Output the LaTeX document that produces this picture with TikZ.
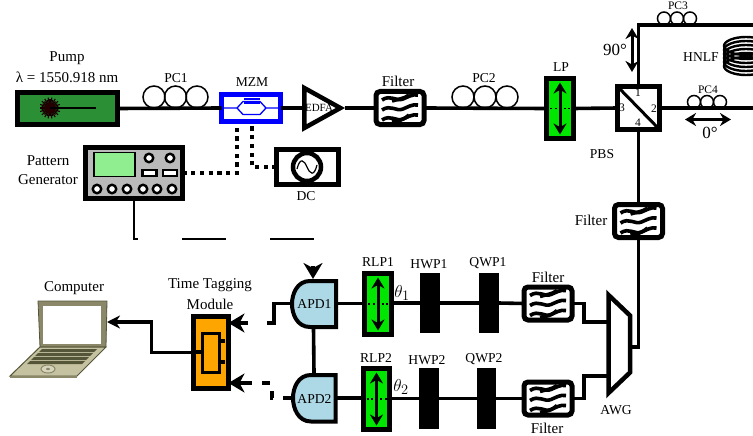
\documentclass[tikz,border=0pt]{standalone}
\usepackage{fontspec}
\setmainfont{Liberation Serif}
\usetikzlibrary{arrows.meta}
\definecolor{pumpgreen}{HTML}{2B8F36}
\definecolor{polgreen}{HTML}{00E600}
\definecolor{scrgreen}{HTML}{90EE90}
\definecolor{apdblue}{HTML}{ADD8E6}
\definecolor{ttmorange}{HTML}{FFA500}
\definecolor{lapbody}{HTML}{C4C2A0}
\definecolor{lapdark}{HTML}{55553A}
\definecolor{lapmid}{HTML}{8A8868}
\tikzset{
  wire/.style={line width=3.6pt},
  thinwire/.style={line width=1.8pt},
  dotwire/.style={line width=4.4pt,dash pattern=on 4.2pt off 4.5pt},
  dashwire/.style={line width=3.6pt,dash pattern=on 8pt off 10pt},
  box/.style={draw,line width=5pt,inner sep=0pt,outer sep=0pt},
  loop/.style={draw,circle,line width=1.5pt,inner sep=0pt,outer sep=0pt},
  lab/.style={inner sep=0pt,font=\fontsize{15}{15}\selectfont},
  midlab/.style={inner sep=0pt,font=\fontsize{13.6}{14}\selectfont},
  smalllab/.style={inner sep=0pt,font=\fontsize{11.5}{12}\selectfont},
  plate/.style={fill=black,draw=none,inner sep=0pt,outer sep=0pt},
  wave/.style={line width=3.6pt},
  tickhead/.style={-{Stealth[length=13pt,width=13pt]},line width=3.4pt},
  doublehead/.style={{Stealth[length=11pt,width=13pt]}-{Stealth[length=11pt,width=13pt]},line width=3pt},
  barbhead/.style={-{Stealth[length=16pt,width=19pt,inset=5pt]},line width=3.4pt},
  pgknob/.style={draw,circle,line width=2.4pt,fill=white,minimum size=8.5pt,inner sep=0pt},
  pgkey/.style={draw,line width=2.4pt,fill=white,inner sep=0pt,minimum width=14pt,minimum height=6pt},
}
% filter symbol: name, x, y
\newcommand{\filterbox}[3]{%
  \node[box,rounded corners=4pt,fill=white,minimum width=48pt,minimum height=33pt] (#1) at (#2,#3) {};
  \begin{scope}[shift={(#2,#3)}]
    \foreach \yy in {-10,0,10}{
      \draw[wave] (-18,\yy+2) .. controls (-9,\yy-4) and (-4,\yy+4) .. (3,\yy+1) .. controls (8,\yy-1) and (12,\yy-4) .. (18,\yy-3);
    }
    \draw[wave] (-8,-7) .. controls (-2,-9) and (4,-9) .. (9,-13);
    \draw[wave] (-8,14) .. controls (-2,13) and (4,12) .. (9,7);
  \end{scope}}
% polariser symbol: name, x, y, w, h
\newcommand{\polbox}[5]{%
  \node[box,fill=polgreen,minimum width=#4pt,minimum height=#5pt] (#1) at (#2,#3) {};
  \begin{scope}[shift={(#2,#3)}]
    \draw[line width=1.8pt,dash pattern=on 2pt off 2.5pt] (-10,0) -- (10,0);
    \draw[doublehead] (0,-#5/2+4) -- (0,#5/2-4);
  \end{scope}}
\begin{document}
\begin{tikzpicture}[x=1pt,y=-1pt]
\useasboundingbox (0,0) rectangle (753,436);
\fill[white] (0,0) rectangle (753,436);

% ---- named junctions
\coordinate (rightA) at (753,25);
\coordinate (rightB) at (753,108);
\coordinate (cornerTop) at (638.5,25);
\coordinate (pgStubEnd) at (138,239);
\coordinate (stubL1) at (182,239);
\coordinate (stubR1) at (226,239);
\coordinate (stubL2) at (270,239);
\coordinate (stubR2) at (314,239);
\coordinate (ttmInA) at (248,323);
\coordinate (ttmInB) at (246,383);
\coordinate (apdTailA) at (267,323);
\coordinate (awgIn1) at (607,322);
\coordinate (awgIn2) at (607,376);
\coordinate (awgOut) at (632,347);
\coordinate (focusTop) at (313,266);
\coordinate (focusTip) at (313,279);
\coordinate (lapPort) at (107,322);
\coordinate (mzmA) at (237,124);
\coordinate (mzmB) at (252,124);

% ---- component bodies
\node[box,fill=pumpgreen,minimum width=100pt,minimum height=32pt] (pump) at (67.5,108.5) {};
\node[box,fill=white,draw=blue,minimum width=59pt,minimum height=27pt] (mzm) at (251,108) {};
\node[inner sep=0pt,outer sep=0pt,minimum width=43pt,minimum height=48pt] (edfa) at (323,108) {};
\filterbox{filtA}{400}{108}
\polbox{lp}{560}{108.5}{27}{60}
\node[box,fill=white,minimum width=42pt,minimum height=43pt] (pbs) at (638.5,108) {};
\filterbox{filtB}{638.5}{221}
\node[box,fill=white,minimum width=62pt,minimum height=35pt] (dc) at (307.5,167) {};
\node[box,fill=black!27,minimum width=97pt,minimum height=51pt] (pg) at (134,173) {};
\node[inner sep=0pt,outer sep=0pt,minimum width=25pt,minimum height=83pt] (awg) at (619.5,344) {};
\filterbox{filtC}{548}{303.5}
\filterbox{filtD}{548}{398.5}
\node[plate,minimum width=20pt,minimum height=60pt] (qwpA) at (488.5,303) {};
\node[plate,minimum width=20pt,minimum height=60pt] (hwpA) at (429.5,303) {};
\node[plate,minimum width=19pt,minimum height=61pt] (qwpB) at (486.5,398.5) {};
\node[plate,minimum width=20pt,minimum height=61pt] (hwpB) at (429,398.5) {};
\polbox{rlpA}{378}{304}{27}{61}
\polbox{rlpB}{376.5}{399}{26}{61}
\node[inner sep=0pt,outer sep=0pt,minimum width=47pt,minimum height=49pt] (apdA) at (313.5,303.5) {};
\node[inner sep=0pt,outer sep=0pt,minimum width=46pt,minimum height=50pt] (apdB) at (314,398) {};
\node[box,fill=ttmorange,minimum width=35pt,minimum height=72pt] (ttm) at (211,352.5) {};

% ---- connectors
\draw[wire] (pump.east) -- (mzm.west);
\draw[wire] (mzm.east) -- (edfa.west);
\draw[wire] (edfa.east) -- (filtA.west);
\draw[wire] (filtA.east) -- (lp.west);
\draw[wire] (lp.east) -- (pbs.west);
\draw[wire] (pbs.east) -- (rightB);
\draw[wire] (pbs.north) -- (cornerTop) -- (rightA);
\draw[wire] (pbs.south) -- (filtB.north);
\draw[wire] (filtB.south) |- (awgOut);
\draw[wire] (filtC.east) -- ++(12,0) |- (awgIn1);
\draw[wire] (filtD.east) -- ++(12,0) |- (awgIn2);
\draw[wire] (filtC.west) -- (qwpA.east);
\draw[wire] (qwpA.west) -- (hwpA.east);
\draw[wire] (hwpA.west) -- (rlpA.east |- hwpA.west);
\draw[wire] (rlpA.west |- apdA.east) -- (apdA.east);
\draw[wire] (filtD.west) -- (qwpB.east);
\draw[wire] (qwpB.west) -- (hwpB.east);
\draw[wire] (hwpB.west) -- (rlpB.east |- hwpB.west);
\draw[wire] (rlpB.west |- apdB.east) -- (apdB.east);
\draw[wire] (apdA.south) -- (apdB.north);
\draw[wire] (apdA.west) -- ++(-16,0) |- (apdTailA);
\draw[barbhead] (ttmInA) -- (ttm.east |- ttmInA);
\draw[barbhead] (focusTop) -- (focusTip);
\draw[dashwire] (apdB.west) -- (272,398) -- (272,383) -- (ttmInB);
\draw[barbhead] (ttmInB) -- (ttm.east |- ttmInB);
\draw[wire] (ttm.west) -- ++(-42,0) |- ([xshift=10pt]lapPort);
\draw[tickhead] ([xshift=11pt]lapPort) -- (lapPort);
\draw[dotwire] (pg.east |- 0,173) -- (mzmA |- 0,173) -- (mzmA);
\draw[dotwire] (dc.west) -- (mzmB |- dc.west) -- (mzmB);
\draw[thinwire] (134,201) -- (134,239) -- (pgStubEnd);
\draw[thinwire] (stubL1) -- (stubR1);
\draw[thinwire] (stubL2) -- (stubR2);

% pump laser
\begin{scope}[shift={(50,108)}]
  \foreach \a in {0,20,...,340}{\draw[line width=1.1pt,black!90!red] (0,0) -- (\a:10.5);}
  \foreach \a in {10,30,...,350}{\draw[line width=1.1pt,black!90!red] (0,0) -- (\a:8.5);}
  \fill[black!85!red] (0,0) circle (5.5);
  \draw[line width=1.5pt] (0,0) -- (46,0);
\end{scope}

% polarisation controllers
\node[loop,minimum size=22pt] (pcAa) at (154,97) {};
\node[loop,minimum size=22pt] (pcAb) at (175.5,97) {};
\node[loop,minimum size=22pt] (pcAc) at (197,97) {};
\node[loop,minimum size=22pt] (pcBa) at (463,97) {};
\node[loop,minimum size=22pt] (pcBb) at (485,97) {};
\node[loop,minimum size=22pt] (pcBc) at (507,97) {};
\node[loop,minimum size=13pt] (pcCa) at (664,18.5) {};
\node[loop,minimum size=13pt] (pcCb) at (677,18.5) {};
\node[loop,minimum size=13pt] (pcCc) at (690,18.5) {};
\node[loop,minimum size=13pt] (pcDa) at (694,102) {};
\node[loop,minimum size=13pt] (pcDb) at (707,102) {};
\node[loop,minimum size=13pt] (pcDc) at (720,102) {};

% MZM interior
\draw[blue,line width=1.3pt] (222,108) -- (237,108) -- (243,101.5) -- (260,101.5) -- (266,108) -- (280,108);
\draw[blue,line width=1.3pt] (237,108) -- (243,114.5) -- (260,114.5) -- (266,108);
\fill[blue] (243.5,98) rectangle (259.5,100.5);
\fill[blue] (243.5,102) rectangle (259.5,104.5);

% EDFA
\draw[line width=4.5pt,miter limit=10,fill=white] (304.3,88) -- (340.4,108) -- (304.3,128) -- cycle;
\node[inner sep=0pt,font=\fontsize{11}{11}\selectfont] (edfaLab) at (319,108) {EDFA};

% PBS interior
\draw[line width=3pt] (pbs.north west) -- (pbs.south east);
\node[smalllab] (pOne) at (638,93) {1};
\node[smalllab] (pTwo) at (654,109) {2};
\node[smalllab] (pThree) at (622,108) {3};
\node[smalllab] (pFour) at (638,123) {4};

% polarisation arrows
\draw[doublehead] (632,28) -- (632,72);
\draw[doublehead] (685,119.5) -- (731,119.5);

% HNLF coil
\begin{scope}
  \clip (715,30) rectangle (753,80);
  \foreach \yy in {46,50,54,58,62,66}{\draw[line width=2.4pt] (746,\yy) ellipse [x radius=22,y radius=9];}
\end{scope}

% pattern generator
\node[draw,line width=1.8pt,fill=scrgreen,minimum width=41pt,minimum height=24pt,inner sep=0pt] (pgScreen) at (114.5,164.5) {};
\node[pgknob] (kA) at (149,158) {};
\node[pgknob] (kB) at (170,158) {};
\node[pgkey] (kC) at (149.5,173) {};
\node[pgkey] (kD) at (170,173) {};
\foreach \n/\xx in {a/97,b/112,c/127,d/143,e/157,f/172}{\node[pgknob] (pgb\n) at (\xx,189) {};}

% DC source
\node[draw,circle,line width=4.5pt,fill=white,minimum size=28pt,inner sep=0pt] (dcDial) at (307,167) {};
\draw[line width=1.2pt] (297,169) .. controls (300,157) and (304,160) .. (307,167) .. controls (310,174) and (314,177) .. (317,165);

% AWG
\draw[line width=4.5pt,miter limit=10,fill=white] (608.5,295) -- (630,315.5) -- (630,372.5) -- (608.5,393) -- cycle;

% APDs
\draw[line width=4pt,fill=apdblue] (336,281) -- (310,281) .. controls (297,281) and (292,294) .. (292,304) .. controls (292,314) and (297,327) .. (310,327) -- (336,327) -- cycle;
\draw[line width=4pt,fill=apdblue] (335.5,375) -- (311,375) .. controls (298,375) and (293,388) .. (293,398) .. controls (293,408) and (298,421.5) .. (311,421.5) -- (335.5,421.5) -- cycle;
\node[midlab] (apdAlab) at (314.5,304) {APD1};
\node[midlab] (apdBlab) at (314.5,399) {APD2};

% time tagger interior
\draw[line width=3.4pt] (195,352) -- (202,352);
\draw[line width=3.4pt] (220,341) -- (225,341);
\draw[line width=3.4pt] (220,362) -- (225,362);
\node[draw,line width=3.4pt,fill=ttmorange,minimum width=17pt,minimum height=39pt,inner sep=0pt] (ttmCore) at (211,353) {};

% laptop
\fill[lapmid] (38,301) -- (107,301) -- (106,347) -- (40,347) -- cycle;
\draw[lapdark,line width=.8pt] (38,301) -- (107,301) -- (106,347) -- (40,347) -- cycle;
\node[fill=white,inner sep=0pt,minimum width=58pt,minimum height=38pt] (lapScreen) at (72,325) {};
\fill[lapbody] (40,347) -- (106,347) -- (77,376) -- (10,376) -- cycle;
\draw[lapdark,line width=1pt] (40,347) -- (106,347) -- (77,376) -- (10,376) -- cycle;
\fill[lapmid] (10,376) -- (77,376) -- (77,378) -- (10,378) -- cycle;
\fill[lapdark] (42,349) -- (97,349) -- (94,352) -- (39,352) -- cycle;
\fill[lapdark] (38,353) -- (93,353) -- (90,356) -- (35,356) -- cycle;
\fill[lapdark] (34,357) -- (89,357) -- (86,360) -- (31,360) -- cycle;
\fill[lapdark] (30,361) -- (85,361) -- (82,364) -- (27,364) -- cycle;
\draw[lapmid,line width=1pt,fill=lapbody!70!white] (48,369) ellipse [x radius=7,y radius=4];
\fill[lapmid] (48,369) ellipse [x radius=2,y radius=1.2];

% labels
\node[lab] (tPump) at (67,58) {Pump};
\node[lab] (tLambda) at (67,77) {λ = 1550.918 nm};
\node[midlab] (tPCa) at (176,78) {PC1};
\node[midlab] (tMZM) at (252,82) {MZM};
\node[lab] (tFa) at (398,81) {Filter};
\node[midlab] (tPCb) at (484,78) {PC2};
\node[midlab] (tLP) at (561,67) {LP};
\node[smalllab] (tPCc) at (678,6) {PC3};
\node[smalllab] (tPCd) at (708,90) {PC4};
\node[midlab] (tHNLF) at (701,57) {HNLF};
\node[inner sep=0pt,font=\fontsize{17}{17}\selectfont] (tNinety) at (615,50) {90°};
\node[inner sep=0pt,font=\fontsize{17}{17}\selectfont] (tZero) at (710,133) {0°};
\node[midlab] (tPBS) at (602,154) {PBS};
\node[lab] (tFb) at (591,220) {Filter};
\node[lab] (tPat) at (48,161) {Pattern};
\node[lab] (tGen) at (48,180) {Generator};
\node[midlab] (tDC) at (306,196) {DC};
\node[lab] (tComp) at (74,288) {Computer};
\node[lab] (tTime) at (210,285) {Time Tagging};
\node[lab] (tMod) at (210,304) {Module};
\node[midlab] (tRa) at (378,262) {RLP1};
\node[midlab] (tHa) at (429,264) {HWP1};
\node[midlab] (tQa) at (488,263) {QWP1};
\node[lab] (tFc) at (548,277) {Filter};
\node[midlab] (tRb) at (376,358) {RLP2};
\node[midlab] (tHb) at (427,360) {HWP2};
\node[midlab] (tQb) at (484,359) {QWP2};
\node[lab] (tFd) at (547,428) {Filter};
\node[midlab] (tAWG) at (616,410) {AWG};
\node[inner sep=0pt,font=\fontsize{19}{19}\selectfont] (tTa) at (402,293) {$\theta_1$};
\node[inner sep=0pt,font=\fontsize{19}{19}\selectfont] (tTb) at (401,387) {$\theta_2$};
\end{tikzpicture}
\end{document}
